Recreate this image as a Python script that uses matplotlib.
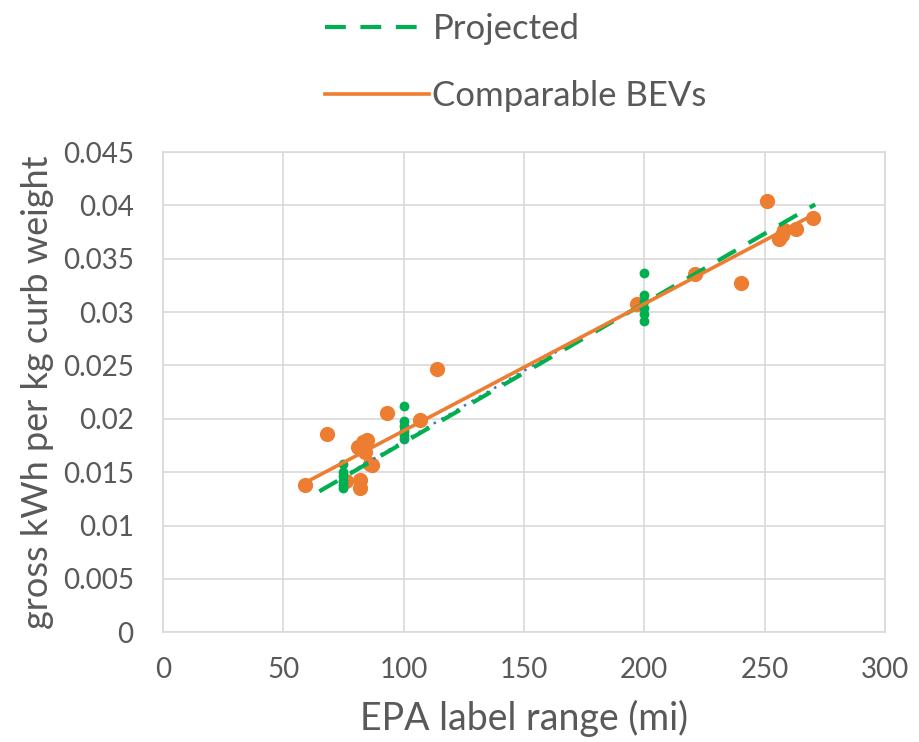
import matplotlib.pyplot as plt

plt.rcParams['font.family'] = ['Lato', 'DejaVu Sans']

# comparable BEVs (EPA range, gross kWh per kg curb weight)
bev_range = [59, 68, 76, 81, 82, 82, 83, 84, 85, 86, 87, 93, 107, 114,
             197, 221, 240, 251, 256, 257, 258, 263, 270]
bev_kwh_kg = [0.0138, 0.0186, 0.0142, 0.0174, 0.0143, 0.0135, 0.0178, 0.0169, 0.0180,
              0.0158, 0.0157, 0.0205, 0.0199, 0.0247,
              0.0308, 0.0336, 0.0327, 0.0404, 0.0369, 0.0372, 0.0377, 0.0378, 0.0388]

# projected vehicles
proj_range = [75] * 6 + [100] * 6 + [200] * 6
proj_kwh_kg = [0.0158, 0.0150, 0.0146, 0.0142, 0.0138, 0.0135,
               0.0212, 0.0198, 0.0193, 0.0189, 0.0185, 0.0181,
               0.0337, 0.0316, 0.0310, 0.0304, 0.0298, 0.0292]

# trendline end points
bev_trend_x = [59, 270]
bev_trend_y = [0.0140, 0.0391]
proj_trend_x = [65, 271]
proj_trend_y = [0.0132, 0.0401]
blue_trend_x = [78, 178]
blue_trend_y = [0.0150, 0.0282]

orange = '#ED7D31'
green = '#00B050'
blue = '#4472C4'
grey = '#595959'

fig = plt.figure(figsize=(9.2, 7.42), dpi=100)
ax = fig.add_axes([0.177, 0.148, 0.785, 0.647])

ax.scatter(bev_range, bev_kwh_kg, s=120, color=orange, zorder=3, linewidths=0)
ax.scatter(proj_range, proj_kwh_kg, s=50, color=green, zorder=3, linewidths=0)

ax.plot(blue_trend_x, blue_trend_y, color=blue, lw=1.8, linestyle=(0, (1, 2.5)), zorder=4)
ax.plot(proj_trend_x, proj_trend_y, color=green, lw=3, linestyle=(0, (5, 3.5)),
        zorder=5, label='Projected')
ax.plot(bev_trend_x, bev_trend_y, color=orange, lw=2.6, zorder=6, label='Comparable BEVs')

ax.set_xlim(0, 300)
ax.set_ylim(0, 0.045)
ax.set_xticks(range(0, 301, 50))
ax.set_yticks([i * 0.005 for i in range(10)])
ax.set_yticklabels(['0', '0.005', '0.01', '0.015', '0.02', '0.025', '0.03', '0.035',
                    '0.04', '0.045'])
ax.grid(True, color='#d9d9d9', lw=1.2)
ax.set_axisbelow(True)
for s in ax.spines.values():
    s.set_color('#d9d9d9')
    s.set_linewidth(1.2)
ax.tick_params(length=0, labelsize=20, colors=grey)
ax.tick_params(axis='x', pad=18)
ax.tick_params(axis='y', pad=21)

ax.set_xlabel('EPA label range (mi)', fontsize=27, color=grey, labelpad=12)
ax.set_ylabel('gross kWh per kg curb weight', fontsize=26, color=grey, labelpad=6)

fig.legend(loc='center left', bbox_to_anchor=(0.353, 0.916), frameon=False,
           fontsize=25, labelcolor=grey, handlelength=3.0, handletextpad=0.1,
           labelspacing=1.0, borderpad=0, borderaxespad=0)

fig.savefig('out.png', dpi=100)
